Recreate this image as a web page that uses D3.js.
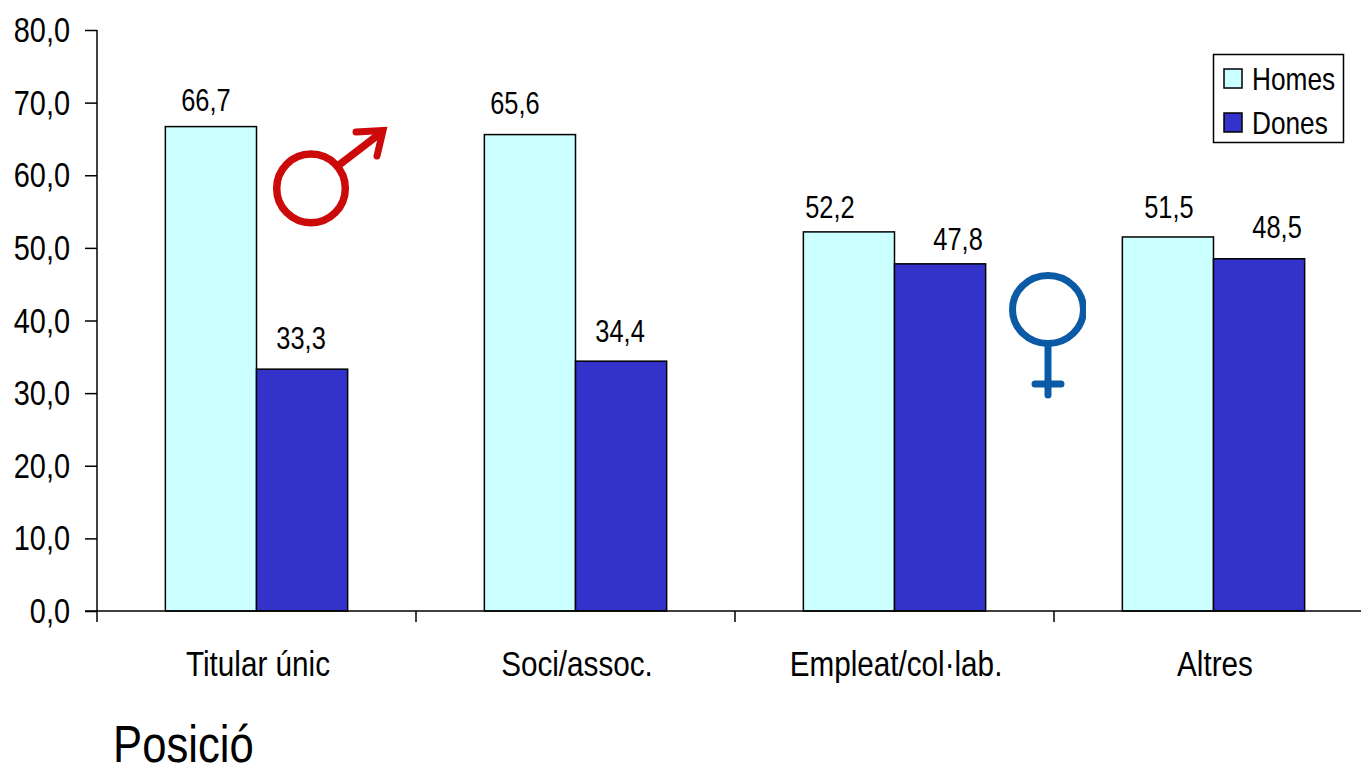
<!DOCTYPE html>
<html><head><meta charset="utf-8">
<script src="https://cdn.jsdelivr.net/npm/d3@7/dist/d3.min.js"></script>
<style>
html,body{margin:0;padding:0;background:#fff;overflow:hidden}
text{font-family:"Liberation Sans",Arial,sans-serif;fill:#000}
</style></head><body><svg id="c" width="1361" height="764"></svg>
<script>
const categories = ["Titular únic","Soci/assoc.","Empleat/col·lab.","Altres"];
const seriesNames = ["Homes","Dones"];
const homes = [66.7,65.6,52.2,51.5];
const dones = [33.3,34.4,47.8,48.5];
const yTicks = [0,10,20,30,40,50,60,70,80];
const seriesValues = [homes,dones];
const colors = ["#ccffff","#3333cc"];
// hand-placed data labels in the reference: offset from each bar's top centre
const labelDx = [[-5,-15,-19,1],[-1,-1,18,18]];
const labelDy = [[-15.6,-20.6,-14,-19],[-20,-19,-14,-21]];
const fmt = v => d3.format(".1f")(v).replace(".",",");

const svg = d3.select("#c");
const x0 = d3.scaleBand().domain(categories).range([97,1373]);
const x1 = d3.scaleBand().domain(seriesNames).range([0,x0.step()]).paddingInner(0).paddingOuter(0.75);
const y = d3.scaleLinear().domain([0,80]).range([611,30]);

// condensed text, as in the reference: horizontal squeeze around the anchor point
function put(sel,xf,yf,size,sx,anchor){
  sel.attr("transform",(d,i)=>`translate(${xf(d,i)},${yf(d,i)}) scale(${sx},1)`)
     .attr("font-size",size).attr("text-anchor",anchor||"middle");
  return sel;
}

// bars and labels
seriesNames.forEach((s,si)=>{
  svg.append("g").selectAll("rect").data(seriesValues[si]).join("rect")
    .attr("x",(d,i)=>x0(categories[i])+x1(s))
    .attr("y",d=>y(d))
    .attr("width",x1.bandwidth())
    .attr("height",d=>y(0)-y(d))
    .attr("fill",colors[si])
    .attr("stroke","#000").attr("stroke-width",1.5);
  put(svg.append("g").selectAll("text").data(seriesValues[si]).join("text").text(fmt),
    (d,i)=>x0(categories[i])+x1(s)+x1.bandwidth()/2+labelDx[si][i],
    (d,i)=>y(d)+labelDy[si][i],31,0.82);
});

// y axis
const yAxis = svg.append("g").attr("transform","translate(97,0)")
  .call(d3.axisLeft(y).tickValues(yTicks).tickSize(12).tickFormat(fmt));
yAxis.attr("font-family",null);
yAxis.selectAll("line,path").attr("stroke","#000").attr("stroke-width",1.5);
yAxis.select("path").attr("d","M0,30V622");
yAxis.selectAll("text").attr("x",null).attr("dy",null)
  .attr("transform","translate(-27,11.5) scale(0.825,1)")
  .attr("font-size",35).attr("text-anchor","end")
  .style("font-family",'"Liberation Sans",Arial,sans-serif');

// x axis
const xg = svg.append("g");
xg.append("line").attr("x1",85).attr("x2",1361).attr("y1",y(0)).attr("y2",y(0)).attr("stroke","#000").attr("stroke-width",1.5);
xg.selectAll("line.t").data(categories.slice(1)).join("line").attr("class","t")
  .attr("x1",d=>x0(d)).attr("x2",d=>x0(d)).attr("y1",y(0)).attr("y2",y(0)+11)
  .attr("stroke","#000").attr("stroke-width",1.5);
put(xg.selectAll("text").data(categories).join("text").text(d=>d),
  d=>x0(d)+x0.step()/2+1.5,()=>676,35,0.848);

put(svg.append("text").datum("Posició").text(d=>d),()=>113,()=>762,52,0.84,"start");

// legend
const lg = svg.append("g");
lg.append("rect").attr("x",1213.5).attr("y",54.5).attr("width",130).attr("height",88)
  .attr("fill","#fff").attr("stroke","#000").attr("stroke-width",1.5);
seriesNames.forEach((s,i)=>{
  lg.append("rect").attr("x",1224).attr("y",69+i*44).attr("width",18).attr("height",19)
    .attr("fill",colors[i]).attr("stroke","#000").attr("stroke-width",1.5);
  put(lg.append("text").datum(s).text(s),()=>1252,()=>90+i*43.5,32,0.82,"start");
});

// male symbol
const m = svg.append("g").attr("fill","none").attr("stroke","#cc0a0a").attr("stroke-width",7.5).attr("stroke-linecap","round");
m.append("circle").attr("cx",311).attr("cy",188.4).attr("r",34.3);
m.append("path").attr("d","M339,165L382,132");
m.append("path").attr("d","M356,132L383,130.5L377,156").attr("stroke-width",7).attr("stroke-linejoin","miter");

// female symbol
svg.append("clipPath").attr("id","fc").append("rect").attr("x",1000).attr("y",260).attr("width",86).attr("height",145);
const f = svg.append("g").attr("clip-path","url(#fc)").attr("fill","none").attr("stroke","#0a5aa5").attr("stroke-width",7).attr("stroke-linecap","round");
f.append("ellipse").attr("cx",1048).attr("cy",309.5).attr("rx",35.5).attr("ry",34);
f.append("path").attr("d","M1048,344V395M1035,384H1061");
</script></body></html>
